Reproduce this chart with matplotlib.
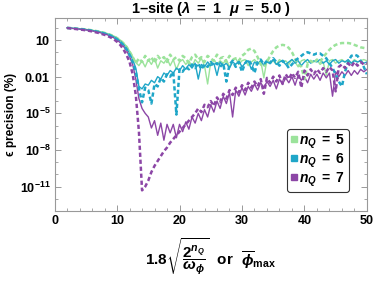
import numpy as np
import matplotlib
matplotlib.use("Agg")
import matplotlib.pyplot as plt
from matplotlib.lines import Line2D
from matplotlib.ticker import FixedLocator, NullFormatter

plt.rcParams['font.family'] = ['Liberation Sans', 'DejaVu Sans']
plt.rcParams['font.weight'] = 'bold'
plt.rcParams['mathtext.fontset'] = 'custom'
plt.rcParams['mathtext.rm'] = 'Liberation Sans:bold'
plt.rcParams['mathtext.bf'] = 'Liberation Sans:bold'
plt.rcParams['mathtext.it'] = 'Liberation Sans:bold:italic'
plt.rcParams['mathtext.bfit'] = 'Liberation Sans:bold:italic'

# x grid of samples
x = np.arange(2.0, 50.01, 0.5)

# log10 of precision (%) for each series
g_solid = [2.00, 1.98, 1.96, 1.94, 1.92, 1.90, 1.87, 1.84, 1.80, 1.76,
           1.71, 1.66, 1.60, 1.52, 1.43, 1.32, 1.18, 1.00, 0.78, 0.50,
           0.10, -0.35, -0.85, -1.1, -0.7, -1.2, -0.6, -1.0, -0.5, -1.3,
           -0.7, -0.9, -0.5, -1.1, -0.6, -1.4, -0.8, -0.6, -1.0, -0.7,
           -1.2, -0.6, -0.9, -0.5, -1.1, -2.6, -0.8, -0.6, -1.0, -0.7,
           -0.9, -0.6, -1.2, -0.7, -0.5, -1.0, -0.7, -0.6, -1.1, -0.8,
           -0.6, -0.9, -0.7, -2.1, -0.6, -0.9, -0.7, -1.0, -0.6, -0.8,
           -0.7, -1.0, -0.6, -0.8, -1.2, -0.7, -0.6, -0.9, -0.7, -0.8,
           -0.6, -1.0, -0.8, -1.9, -0.7, -0.6, -0.9, -0.7, -0.6, -0.8,
           -0.7, -0.9, -0.6, -0.8, -0.7, -0.6, -0.7]
g_dash = [1.99, 1.97, 1.95, 1.93, 1.91, 1.89, 1.86, 1.83, 1.79, 1.75,
          1.70, 1.64, 1.58, 1.50, 1.41, 1.30, 1.15, 0.97, 0.74, 0.45,
          0.05, -0.4, -0.9, -0.5, -0.8, -0.3, -0.7, -0.4, -0.9, -0.3,
          -0.6, -0.4, -0.8, -0.2, -0.6, -0.4, -0.7, -0.3, -0.5, -0.9,
          -0.4, -0.2, -0.6, -0.4, -0.8, -0.3, -0.5, -0.7, -0.2, -0.5,
          -0.4, -0.8, -0.3, -0.6, -0.5, -0.7, -0.3, -0.1, 0.2, 0.3,
          0.1, -0.4, -1.0, -1.2, -0.8, -0.3, 0.1, 0.4, 0.55, 0.6,
          0.55, 0.35, 0.0, -0.5, -1.0, -1.2, -2.2, -1.0, -0.7, -0.9,
          -0.6, -0.8, -0.4, -0.1, 0.2, 0.45, 0.6, 0.7, 0.75, 0.75,
          0.75, 0.7, 0.6, 0.5, 0.4, 0.35, 0.3]
c_solid = [1.995, 1.975, 1.95, 1.93, 1.905, 1.88, 1.85, 1.815, 1.775, 1.73,
           1.68, 1.62, 1.55, 1.47, 1.37, 1.25, 1.10, 0.90, 0.65, 0.33,
           -0.10, -0.6, -1.3, -2.8, -3.0, -2.6, -2.7, -2.3, -2.5, -2.0,
           -2.2, -1.7, -1.9, -1.5, -1.7, -1.3, -1.5, -1.1, -1.4, -1.0,
           -1.3, -0.9, -2.2, -1.0, -1.2, -0.8, -1.1, -0.9, -1.9, -0.8,
           -1.1, -0.9, -1.3, -0.8, -1.0, -0.7, -1.2, -0.9, -0.7, -1.4,
           -0.8, -1.0, -0.7, -1.1, -0.8, -0.9, -0.6, -1.0, -0.8, -0.7,
           -1.0, -0.8, -0.6, -0.9, -0.7, -1.1, -0.8, -0.6, -0.9, -0.7,
           -0.8, -0.6, -0.9, -0.7, -1.0, -0.7, -0.6, -0.9, -0.7, -0.8,
           -0.6, -0.9, -0.7, -0.8, -0.7, -0.9, -0.8]
c_dash = [1.99, 1.97, 1.945, 1.92, 1.895, 1.87, 1.84, 1.80, 1.76, 1.715,
          1.66, 1.60, 1.53, 1.45, 1.35, 1.22, 1.06, 0.86, 0.60, 0.27,
          -0.2, -0.8, -1.6, -3.0, -4.1, -2.9, -3.1, -4.2, -2.6, -2.8,
          -2.1, -2.4, -1.8, -2.0, -1.6, -5.1, -1.4, -1.6, -1.2, -1.4,
          -1.0, -1.3, -0.9, -1.4, -1.0, -1.2, -0.8, -1.1, -0.9, -1.2,
          -0.9, -2.4, -1.0, -0.7, -1.2, -0.8, -1.6, -0.9, -0.6, -1.0,
          -1.7, -0.8, -0.6, -1.0, -0.7, -0.9, -0.5, -0.8, -1.1, -0.7,
          -0.9, -1.3, -1.0, -0.7, -0.5, -0.3, -0.1, 0.0, -0.1, -0.2,
          -0.1, -0.1, -0.3, -0.5, -0.9, -1.3, -1.8, -2.4, -2.8, -1.6,
          -0.8, -0.3, -0.2, -0.3, -0.7, -1.2, -1.8]
p_solid = [1.99, 1.96, 1.94, 1.91, 1.88, 1.85, 1.82, 1.78, 1.74, 1.69,
           1.63, 1.57, 1.50, 1.41, 1.30, 1.17, 1.00, 0.78, 0.50, 0.15,
           -0.35, -1.0, -2.2, -3.8, -4.6, -5.0, -5.3, -6.2, -5.6, -6.8,
           -5.8, -7.2, -5.9, -6.6, -5.9, -7.0, -5.9, -6.5, -5.7, -6.3,
           -5.3, -5.8, -5.0, -5.6, -4.7, -5.3, -4.3, -4.9, -4.0, -4.6,
           -3.6, -4.2, -3.3, -5.3, -3.1, -3.6, -2.9, -3.5, -2.8, -3.2,
           -2.6, -3.1, -2.5, -2.9, -2.4, -2.8, -2.3, -3.0, -2.2, -2.6,
           -2.1, -2.5, -2.0, -2.7, -1.9, -2.3, -2.0, -2.5, -1.8, -2.2,
           -1.8, -2.3, -1.7, -2.1, -1.7, -3.6, -1.6, -2.0, -1.6, -1.9,
           -1.5, -1.9, -1.5, -1.8, -1.4, -1.6, -1.4]
p_dash = [1.98, 1.95, 1.92, 1.89, 1.86, 1.83, 1.79, 1.75, 1.70, 1.64,
          1.58, 1.50, 1.42, 1.32, 1.20, 1.05, 0.85, 0.60, 0.25, -0.2,
          -0.8, -1.8, -3.5, -6.5, -11.3, -11.0, -10.5, -9.8, -9.3, -8.9,
          -8.5, -8.1, -7.8, -7.4, -7.1, -6.8, -6.5, -6.2, -5.9, -5.6,
          -5.3, -5.0, -4.6, -4.9, -4.3, -4.5, -4.0, -4.4, -3.7, -4.1,
          -3.4, -3.8, -3.1, -3.5, -2.9, -3.3, -2.7, -3.1, -2.5, -2.9,
          -2.4, -2.8, -2.2, -3.4, -2.1, -2.5, -2.0, -2.4, -1.9, -2.6,
          -1.8, -2.2, -1.7, -2.1, -1.6, -2.9, -1.5, -1.9, -1.4, -1.8,
          -1.4, -1.7, -1.3, -1.6, -1.2, -1.5, -3.2, -1.2, -1.0, -1.3,
          -0.9, -1.2, -0.8, -1.1, -0.8, -1.0, -0.9]

labels = ['5', '6', '7']
colors = ['#9BE39B', '#1FA6C8', '#8C46A6']
series = [(g_solid, g_dash), (c_solid, c_dash), (p_solid, p_dash)]

xticks = [0, 10, 20, 30, 40, 50]
yticks = [10.0, 0.01, 1e-5, 1e-8, 1e-11]
ytick_labels = [r'$\mathbf{10}$', r'$\mathbf{0.01}$', r'$\mathbf{10^{-5}}$',
                r'$\mathbf{10^{-8}}$', r'$\mathbf{10^{-11}}$']

fig = plt.figure(figsize=(3.74, 2.90), dpi=100)
ax = fig.add_axes([0.146, 0.272, 0.835, 0.666])

for (sol, das), col in zip(series, colors):
    ax.plot(x, 10.0 ** np.array(sol), color=col, lw=1.0, zorder=2)
    ax.plot(x, 10.0 ** np.array(das), color=col, lw=1.8, dashes=(1.7, 1.1), zorder=3)

ax.set_yscale('log')
ax.set_xlim(0, 50)
ax.set_ylim(10 ** -13.0, 10 ** 2.8)
ax.set_xticks(xticks)
ax.set_xticklabels([str(t) for t in xticks], fontsize=9, fontweight='bold')
ax.xaxis.set_minor_locator(FixedLocator(np.arange(0, 51, 2)))
ax.set_yticks(yticks)
ax.set_yticklabels(ytick_labels, fontsize=9)
ax.yaxis.set_minor_locator(FixedLocator([10.0 ** k for k in range(-13, 3)]))
ax.yaxis.set_minor_formatter(NullFormatter())
ax.xaxis.set_minor_formatter(NullFormatter())
ax.tick_params(which='both', direction='in', top=True, right=True, color='#999999')
ax.tick_params(which='major', length=4, width=0.7, pad=3)
ax.tick_params(which='minor', length=2, width=0.6)
for s in ax.spines.values():
    s.set_color('#999999')
    s.set_linewidth(0.8)

ax.set_title(r'$\mathbf{1\text{–}site\ (}\mathbfit{\lambda}\mathbf{\ =\ 1\ \ }\mathbfit{\mu}\mathbf{\ =\ 5.0\ )}$',
             fontsize=10.5, pad=3)
ax.set_ylabel('ϵ precision (%)', fontsize=8.5, fontweight='bold', labelpad=2)
ax.set_xlabel(r'$\mathbf{1.8}\sqrt{\dfrac{\mathbf{2}^{\mathbfit{n}_{\mathbfit{Q}}}}{\mathbfit{\omega}_{\mathbfit{\phi}}}}$'
              r'$\mathbf{\ \ or\ \ }\overline{\mathbfit{\phi}}_{\mathbf{max}}$', fontsize=11, labelpad=6)

handles = [Line2D([], [], marker='s', ls='none', color=c, markersize=5) for c in colors]
leg_labels = [r'$\mathbfit{n}_{\mathbfit{Q}}\;\mathbf{=}\;\mathbf{' + l + '}$' for l in labels]
leg = ax.legend(handles, leg_labels, loc='lower right', bbox_to_anchor=(0.942, 0.098),
                fontsize=10, handlelength=0.5, handletextpad=0.15, borderpad=0.25,
                labelspacing=0.05, fancybox=True, framealpha=1, edgecolor='#333333',
                borderaxespad=0)
leg.get_frame().set_linewidth(0.8)

fig.savefig('out.png', dpi=100)
